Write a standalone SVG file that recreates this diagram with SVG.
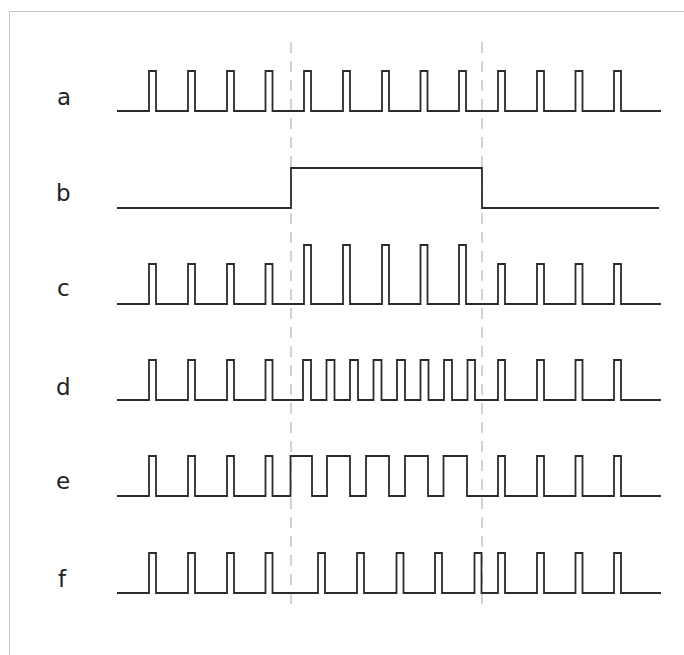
<svg xmlns="http://www.w3.org/2000/svg" width="684" height="655" viewBox="0 0 684 655">
<style>
.sig{fill:none;stroke:#2b2b2b;stroke-width:1.8;stroke-linejoin:miter}
.lbl{font-family:"DejaVu Sans",sans-serif;font-size:23px;fill:#222}
.guide{stroke:#c4c4c4;stroke-width:1.5;stroke-dasharray:11 8}
</style>
<rect x="0" y="0" width="684" height="655" fill="#fff"/>
<rect x="9.5" y="11.5" width="720" height="720" fill="none" stroke="#c8c8c8" stroke-width="1"/>
<g id="guides">
<line class="guide" x1="291" y1="42" x2="291" y2="610"/>
<line class="guide" x1="482" y1="42" x2="482" y2="610"/>
</g>
<g id="row-a">
<text class="lbl" x="57" y="105">a</text>
<path class="sig" d="M117 111 H149 V71 H156 V111 H188 V71 H195 V111 H227 V71 H234 V111 H265.5 V71 H272.5 V111 H304 V71 H311 V111 H343 V71 H350 V111 H382 V71 H389 V111 H420.5 V71 H427.5 V111 H459 V71 H466 V111 H498 V71 H505 V111 H537 V71 H544 V111 H575.5 V71 H582.5 V111 H614 V71 H621 V111 H661"/>
</g>
<g id="row-b">
<text class="lbl" x="56" y="201">b</text>
<path class="sig" d="M117 208 H291 V168 H482 V208 H659"/>
</g>
<g id="row-c">
<text class="lbl" x="57" y="296">c</text>
<path class="sig" d="M117 304 H149 V264 H156 V304 H188 V264 H195 V304 H227 V264 H234 V304 H265.5 V264 H272.5 V304 H304 V245 H311 V304 H343 V245 H350 V304 H382 V245 H389 V304 H420.5 V245 H427.5 V304 H459 V245 H466 V304 H498 V264 H505 V304 H537 V264 H544 V304 H575.5 V264 H582.5 V304 H614 V264 H621 V304 H661"/>
</g>
<g id="row-d">
<text class="lbl" x="56" y="395">d</text>
<path class="sig" d="M117 400 H149 V360 H156 V400 H188 V360 H195 V400 H227 V360 H234 V400 H265.5 V360 H272.5 V400 H303 V360 H311 V400 H326.5 V360 H334.5 V400 H350 V360 H358 V400 H373.5 V360 H381.5 V400 H397 V360 H405 V400 H420.5 V360 H428.5 V400 H444 V360 H452 V400 H467.5 V360 H475 V400 H498 V360 H505 V400 H537 V360 H544 V400 H575.5 V360 H582.5 V400 H614 V360 H621 V400 H661"/>
</g>
<g id="row-e">
<text class="lbl" x="56" y="489">e</text>
<path class="sig" d="M117 496 H149 V456 H156 V496 H188 V456 H195 V496 H227 V456 H234 V496 H265.5 V456 H272.5 V496 H290.5 V456 H312 V496 H327 V456 H350 V496 H366 V456 H389 V496 H405 V456 H428 V496 H443.5 V456 H467 V496 H498 V456 H505 V496 H537 V456 H544 V496 H575.5 V456 H582.5 V496 H614 V456 H621 V496 H661"/>
</g>
<g id="row-f">
<text class="lbl" x="58" y="587">f</text>
<path class="sig" d="M117 593 H149 V553 H156 V593 H188 V553 H195 V593 H227 V553 H234 V593 H265.5 V553 H272.5 V593 H318 V553 H325 V593 H357 V553 H364 V593 H396.5 V553 H403.5 V593 H435 V553 H442 V593 H474.5 V553 H481.5 V593 H498 V553 H505 V593 H537 V553 H544 V593 H575.5 V553 H582.5 V593 H614 V553 H621 V593 H661"/>
</g>
</svg>
